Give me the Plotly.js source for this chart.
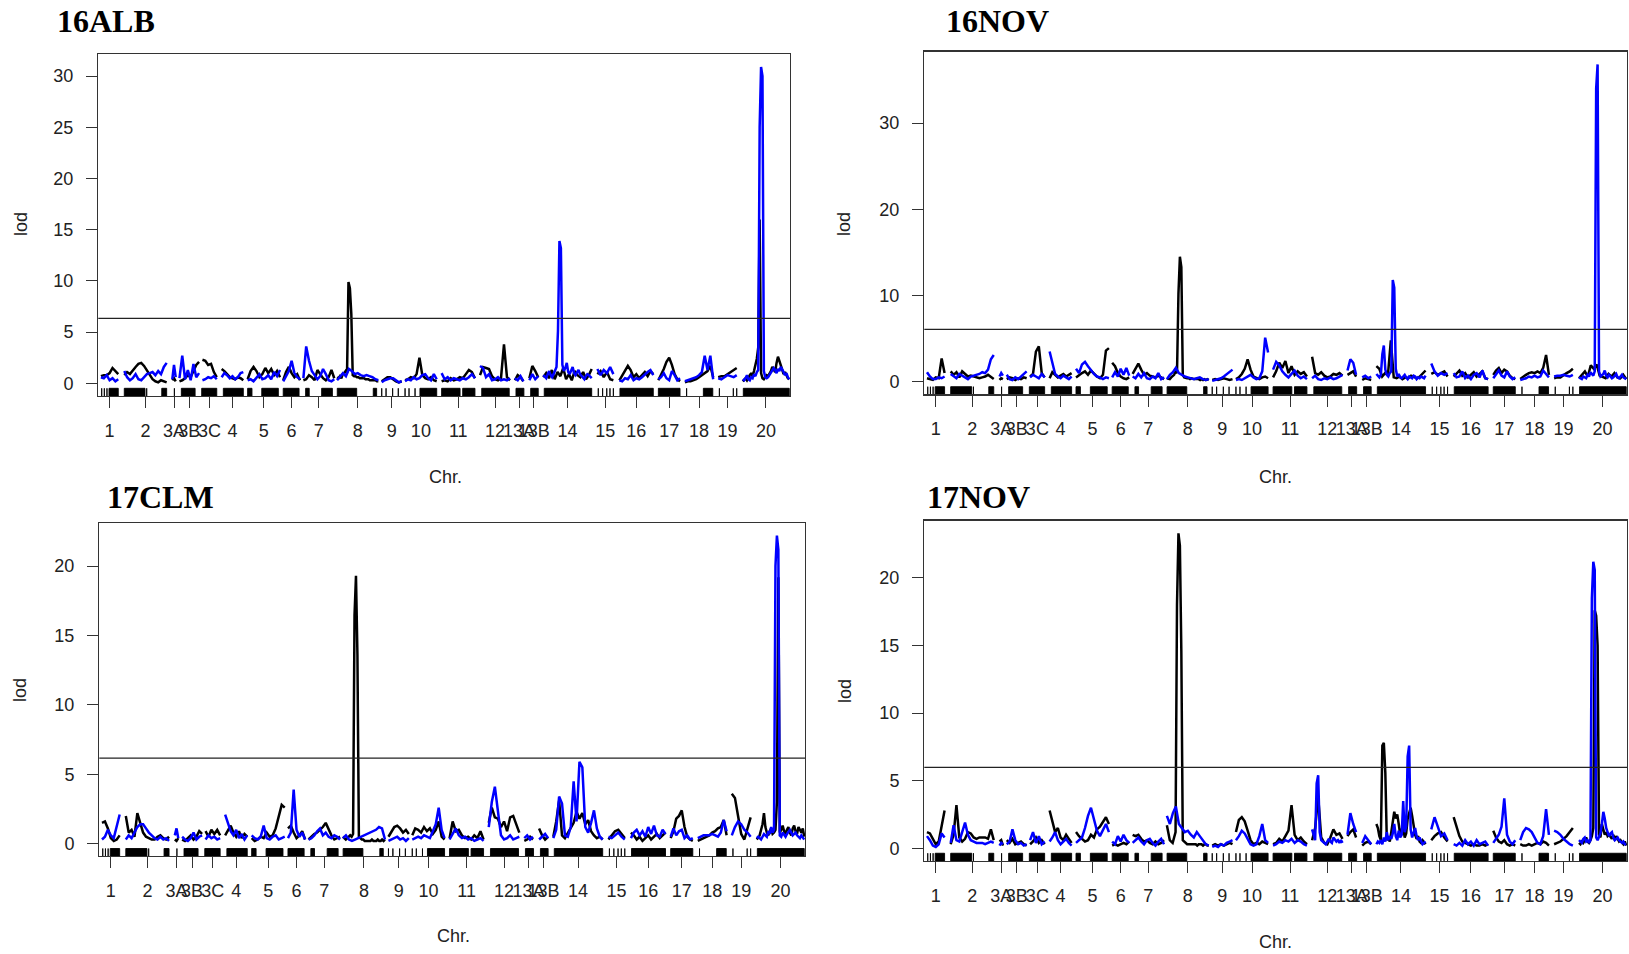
<!DOCTYPE html>
<html><head><meta charset="utf-8">
<script src="https://cdn.plot.ly/plotly-3.0.1.min.js"></script>
<style>html,body{margin:0;padding:0;background:#fff}#chart{width:1629px;height:954px}</style>
</head><body><div id="chart"></div><script>
// ---- genetic map (cM, concatenated with gaps) ----
const chrNames = ["1","2","3A","3B","3C","4","5","6","7","8","9","10","11","12","13A","13B","14","15","16","17","18","19","20"];
const chrStart = [0,124,379,417,539,641,779,968,1075,1254,1491,1615,1809,2013,2198,2275,2349,2636,2753,2960,3101,3278,3408];
const chrEnd   = [92,349,397,521,615,756,951,1057,1239,1473,1597,1783,1986,2172,2243,2322,2606,2721,2933,3075,3251,3376,3655];
// marker rug: [start, end] in cM (equal values = single marker)
const markerBlocks = [[4,4],[18,18],[32,32],[43,92],[124,234],[243,243],[323,349],[390,390],[427,500],[535,615],[650,756],
 [779,802],[854,942],[968,1052],[1087,1106],[1172,1229],[1255,1358],[1446,1464],[1491,1491],[1514,1514],[1549,1549],[1579,1579],
 [1615,1615],[1636,1636],[1668,1668],[1694,1783],[1809,1907],[1921,1986],[2022,2168],[2204,2246],[2282,2322],[2354,2606],
 [2641,2641],[2664,2664],[2686,2686],[2703,2703],[2721,2721],[2756,2933],[2960,3075],[3110,3110],[3199,3249],[3284,3284],
 [3358,3358],[3376,3376],[3411,3655]];

// ---- LOD profiles per chromosome (evenly spaced along each chromosome) ----
const alb16Black = [
 [0.7,0.8,0.8,1.0,1.5,1.2,0.9],
 [0.8,1.1,0.9,1.3,1.6,1.9,2.0,1.7,1.3,0.8,0.4,0.2,0.1,0.3,0.2,0.1],
 [0.3,0.5,0.2],
 [0.2,0.3,0.5,0.8,0.6,1.2,1.8,2.1],
 [2.3,2.2,1.8,1.9,1.1,0.6],
 [1.4,1.2,0.9,0.6,0.5,0.4,0.6,0.5,0.3],
 [0.4,1.2,1.6,1.2,0.6,0.9,1.5,1.0,1.4,0.8,1.2,0.6],
 [0.3,1.1,1.6,1.0,0.6,0.9,0.3],
 [0.3,0.4,0.8,0.6,0.3,1.3,0.9,0.5,0.3,0.6,1.3,0.5],
 [0.6,0.5,0.7,0.5,0.9,1.0,1.2,1.0,9.9,9.3,6.8,0.8,0.7,0.7,0.6,0.6,0.5,0.5,0.5,0.5,0.4,0.4,0.4,0.3,0.3,0.3,0.3,0.3,0.2,0.2],
 [0.2,0.4,0.6,0.6,0.4,0.2,0.1,0.2],
 [0.3,0.4,0.6,0.5,0.9,2.5,0.8,0.5,0.4,0.6,0.3,0.2],
 [0.2,0.3,0.2,0.5,0.3,0.4,0.6,0.5,0.9,1.3,1.1,0.5],
 [0.8,1.6,1.5,1.4,0.7,0.4,0.3,0.5,3.8,0.6,0.3],
 [0.3,0.8,0.6,0.2],
 [0.5,1.7,1.2,0.6],
 [0.6,1.0,0.5,1.3,0.4,1.1,0.7,1.5,0.4,0.9,0.3,1.2,0.8,0.6,1.1,0.4,0.8,1.4],
 [0.9,1.2,0.6,1.1,0.4,0.3],
 [0.3,0.8,1.2,1.7,1.3,0.6,0.9,0.5,0.8,1.1,0.7,1.2,0.9],
 [0.3,0.8,1.4,2.1,2.5,1.8,0.9,0.4,0.2],
 [0.1,0.2,0.2,0.3,0.4,0.6,0.8,1.0,1.2,1.7,0.6],
 [0.6,0.7,0.7,0.9,1.1,1.3,1.5],
 [0.2,0.4,0.5,0.3,0.6,0.8,1.0,0.7,1.2,1.8,2.4,3.5,16.0,1.0,0.5,0.4,0.6,0.8,0.7,0.9,1.2,1.6,1.3,1.1,2.0,2.6,2.2,1.8,1.3,0.9,1.1,0.7,0.5,0.4]
];
const alb16Blue = [
 [0.6,0.5,0.8,0.3,0.5,0.2,0.4],
 [1.2,0.6,0.3,0.5,0.9,0.4,0.3,0.6,0.9,1.0,1.1,0.8,1.2,0.9,1.6,2.0],
 [0.4,1.8,0.6],
 [0.5,2.7,0.4,1.3,0.3,1.9,0.6,1.0],
 [0.3,0.4,0.6,0.5,0.7,0.4],
 [0.6,1.0,0.8,0.5,0.7,0.4,0.6,1.0,1.1],
 [0.3,0.4,0.2,0.6,0.9,0.4,0.5,0.8,0.4,1.1,0.7,1.3],
 [0.2,0.7,1.2,2.2,1.0,0.6,0.4],
 [0.5,3.6,2.2,1.2,0.8,0.4,0.7,1.4,0.9,0.3,0.2,0.4],
 [0.3,0.6,1.0,0.7,1.4,1.2,0.9,1.0,0.8,0.7,0.8,0.7,0.6,0.4,0.3],
 [0.1,0.3,0.4,0.5,0.5,0.3,0.1,0.2],
 [0.2,0.4,0.3,0.6,0.4,0.5,0.8,0.9,0.5,0.3,0.9,0.4],
 [1.0,0.4,0.6,0.3,0.5,0.4,0.3,0.5,0.4,0.6,0.9,0.5],
 [1.7,1.5,0.6,0.9,0.3,0.4,0.6,0.3,0.4,0.3,0.5],
 [0.5,0.3,0.7,0.2],
 [0.3,0.9,0.4,0.7],
 [0.8,0.6,0.5,0.9,1.2,0.8,0.6,0.9,1.3,1.6,5.1,13.9,13.2,1.8,1.2,1.5,2.0,1.1,0.9,1.3,1.6,1.0,0.8,1.1,1.3,0.9,0.7,0.5,0.4,0.7,0.9,0.8,0.6,0.5],
 [1.4,0.8,1.3,1.0,1.6,0.9],
 [0.3,0.2,0.5,0.4,0.8,0.3,0.5,0.4,0.6,0.9,1.1,1.3,0.8],
 [0.4,0.6,1.0,0.5,0.3,1.2,0.8,0.3,0.5],
 [0.2,0.3,0.4,0.5,0.6,0.8,1.1,2.7,1.3,2.7,0.4],
 [0.5,0.4,0.6,0.8,0.7,0.6,0.8],
 [0.4,0.3,0.5,0.8,0.4,0.3,0.6,0.5,0.9,0.7,1.1,1.3,25.0,30.9,30.0,1.2,0.6,0.5,0.6,0.8,1.0,1.2,1.5,1.3,1.0,1.4,1.2,1.6,1.4,1.1,0.8,1.0,0.6,0.4]
];
const nov16Black = [
 [0.4,0.3,0.2,0.5,0.4,2.7,1.0],
 [1.2,0.8,1.1,0.5,1.2,0.9,0.6,0.7,0.6,0.5,0.4,0.5,0.6,0.8,0.5,0.3],
 [0.2,0.4,0.3],
 [0.3,0.5,0.4,0.2,0.4,0.3,0.5,0.4],
 [0.6,0.9,3.5,4.1,1.0,0.5],
 [0.4,1.1,0.8,0.5,0.7,0.9,0.6,0.8,1.0],
 [0.5,0.8,1.0,1.2,0.8,1.3,0.9,0.6,0.4,0.8,3.6,3.9],
 [2.2,1.8,1.0,0.6,0.4,0.3,0.5],
 [0.9,1.5,2.1,1.4,0.8,1.0,0.7,0.6,0.5,0.7,0.5,0.3],
 [0.4,0.3,0.3,0.5,0.6,0.8,1.2,1.0,10.2,14.5,13.3,0.8,0.5,0.4,0.4,0.4,0.3,0.4,0.3,0.3,0.3,0.3,0.3,0.2,0.3,0.2,0.3,0.2,0.3,0.2],
 [0.2,0.3,0.2,0.3,0.4,0.3,0.2,0.3],
 [0.3,0.5,0.9,1.5,2.6,1.4,0.6,0.4,0.3,0.5,0.6,0.4],
 [0.5,1.2,2.2,1.6,2.4,1.0,1.8,0.8,1.2,0.9,1.1,0.6],
 [2.9,1.0,0.8,1.1,0.7,0.5,0.6,0.9,0.8,1.0,0.7],
 [0.8,1.0,1.2,0.6],
 [0.2,0.4,0.3,0.2],
 [1.8,1.5,0.6,1.0,0.8,4.8,0.5,0.4,0.6,0.3,0.5,0.4,0.7,0.5,0.4,0.6,1.0,1.3],
 [0.9,1.1,0.8,1.0,1.2,0.6],
 [0.6,0.9,1.3,0.7,1.0,0.5,0.8,1.1,0.6,0.9,1.2,0.4,0.3],
 [0.8,1.3,1.6,1.0,1.4,1.2,0.7,0.4,0.3],
 [0.3,0.5,0.8,1.0,1.1,1.0,1.2,1.0,1.6,3.1,0.8],
 [0.4,0.5,0.5,0.8,1.0,1.2,1.5],
 [0.4,0.8,1.2,0.6,1.9,1.5,2.0,0.7,0.5,0.4,0.9,0.6,1.0,0.5,0.4,0.8,0.3]
];
const nov16Blue = [
 [1.1,0.6,0.3,0.3,0.5,0.4,0.6],
 [0.9,0.6,0.4,0.9,0.7,0.5,0.3,0.6,0.7,0.8,0.9,1.1,1.0,1.4,2.6,3.1],
 [0.6,1.0,0.7],
 [0.8,0.3,0.2,0.5,0.3,0.6,0.9,1.2],
 [0.5,0.8,0.6,0.4,0.9,0.5],
 [3.5,2.1,0.9,0.6,0.4,0.7,0.5,0.3,0.6],
 [1.5,1.0,2.0,2.3,1.8,1.3,0.9,0.6,0.5,0.3,0.5,0.4],
 [0.5,1.1,0.6,1.5,0.8,1.6,0.7],
 [0.6,0.4,0.9,0.5,1.0,0.4,0.3,0.6,0.4,1.0,0.3,0.5],
 [0.3,0.8,1.1,1.6,1.0,0.8,0.6,0.5,0.4,0.3,0.4,0.5,0.3,0.2,0.3],
 [0.1,0.2,0.3,0.4,0.6,0.9,1.2,1.4],
 [0.2,0.3,0.2,0.4,0.6,0.8,0.5,0.3,0.4,1.2,5.1,3.4],
 [1.4,2.3,1.9,1.2,0.8,0.5,0.9,1.3,0.7,0.4,0.6,0.3],
 [0.4,0.7,0.3,0.2,0.4,0.3,0.5,0.3,0.4,0.6,0.8],
 [1.3,2.6,2.2,0.8],
 [0.5,0.7,0.4,0.6],
 [0.9,0.7,0.5,0.8,3.2,4.2,1.4,0.8,0.6,1.0,1.2,11.8,10.9,1.5,0.6,0.9,0.5,0.4,0.6,0.8,0.5,0.3,0.6,0.5,0.4,0.7,0.6,0.3,0.5,0.4,0.6,0.5,0.4,0.7],
 [2.1,1.2,0.7,1.0,0.8,1.0],
 [1.0,0.5,0.6,1.2,0.4,0.7,0.3,0.8,1.0,0.5,1.3,0.4,0.3],
 [0.4,0.9,1.3,0.7,0.5,1.2,0.6,0.3,0.5],
 [0.2,0.3,0.4,0.6,0.5,0.7,0.5,0.6,1.3,0.9,0.5],
 [0.6,0.7,0.7,0.8,0.7,0.6,0.8],
 [0.5,0.4,0.3,0.6,0.5,0.4,0.8,0.6,1.1,0.9,0.7,1.2,34.0,36.8,1.2,0.6,0.8,0.9,1.3,0.7,0.5,0.8,0.6,0.4,0.5,0.7,0.9,0.5,0.4,0.6,0.8,0.5,0.4,0.3]
];
const clm17Black = [
 [1.5,1.6,1.1,0.4,0.2,0.3,0.6],
 [2.0,0.8,1.0,0.5,2.2,1.4,0.8,0.5,0.4,0.3,0.3,0.5,0.6,0.4,0.3,0.5],
 [0.3,0.2,0.4],
 [0.3,0.2,0.4,0.6,0.3,0.5,0.9,0.7],
 [0.9,0.5,1.0,0.7,1.0,0.6],
 [0.6,1.0,1.3,0.8,0.5,0.9,0.4,0.7,0.5],
 [0.4,0.2,0.3,0.5,0.4,0.8,0.5,0.6,1.1,1.9,2.8,2.6],
 [1.1,1.3,0.8,0.4,0.6,0.9,0.3],
 [0.3,0.5,0.7,0.8,1.0,1.2,1.5,1.0,0.6,0.3,0.4,0.5],
 [0.5,0.4,0.3,0.4,0.5,0.6,0.5,0.7,16.5,19.3,13.6,0.5,0.4,0.3,0.3,0.2,0.2,0.2,0.2,0.2,0.3,0.2,0.2,0.2,0.3,0.2,0.2,0.3,0.2,0.3],
 [0.5,0.9,1.2,1.3,1.1,0.8,1.0,0.7],
 [0.6,1.1,1.0,0.8,1.2,0.9,1.1,0.7,1.0,1.6,0.5,0.3],
 [0.4,1.6,0.9,1.0,0.6,0.4,0.5,0.3,0.6,0.4,0.9,0.3],
 [1.5,2.6,1.9,1.8,1.2,1.6,0.9,1.9,2.0,1.4,0.8],
 [0.2,0.3,0.5,0.3],
 [1.1,0.6,0.3,0.5],
 [0.5,1.6,3.1,0.6,0.4,0.8,1.1,1.5,2.3,1.8,2.2,1.4,1.7,0.9,0.6,0.4,0.5,0.3],
 [0.3,0.6,0.9,1.0,0.7,0.4],
 [0.8,0.6,0.3,0.5,0.2,0.4,0.6,0.3,0.5,0.7,0.4,0.6,0.8],
 [0.4,0.9,1.8,2.0,2.4,1.2,0.5,0.3,0.2],
 [0.2,0.3,0.4,0.5,0.6,0.8,0.9,1.1,1.2,1.7,0.6],
 [3.6,3.3,2.0,0.7,0.3,1.2,1.9],
 [0.3,0.5,0.6,1.0,1.4,2.2,1.2,0.8,0.6,0.9,1.1,0.7,0.8,1.0,3.0,19.2,0.8,1.0,1.3,0.9,0.7,1.0,1.2,0.8,0.6,1.1,1.3,0.9,0.7,1.2,1.0,0.8,1.1,0.5]
];
const clm17Blue = [
 [0.3,0.5,1.0,0.6,0.4,1.2,2.1],
 [0.3,0.6,0.4,0.8,1.2,1.4,1.4,1.1,0.8,0.6,0.4,0.3,0.5,0.3,0.4,0.2],
 [0.6,1.1,0.4],
 [0.5,0.3,0.2,0.4,0.8,0.3,0.5,0.6],
 [0.3,0.6,0.4,0.5,0.3,0.4],
 [2.1,1.5,0.9,0.6,1.0,0.4,0.7,0.3,0.6],
 [0.6,0.4,0.3,0.5,1.3,0.4,0.3,0.5,0.6,0.3,0.4,0.5],
 [0.4,0.8,3.9,1.0,0.5,0.8,0.3],
 [0.3,0.4,0.6,0.9,1.1,0.6,0.8,0.5,0.4,0.6,0.5,0.3],
 [0.4,0.6,0.3,0.2,0.3,0.4,0.5,0.6,0.7,0.8,0.9,1.0,1.2,1.1,0.3],
 [0.2,0.3,0.4,0.5,0.3,0.4,0.2,0.4],
 [0.3,0.4,0.5,0.4,0.6,0.5,0.4,0.9,1.4,2.6,1.0,0.4],
 [0.3,0.7,1.1,0.6,0.4,0.5,0.3,0.4,0.2,0.3,0.4,0.2],
 [1.2,3.0,4.1,2.5,0.6,0.3,0.4,0.6,0.3,0.4,0.5],
 [0.4,0.6,0.3,0.5],
 [0.3,0.5,0.7,0.4],
 [0.4,1.0,3.4,2.9,0.6,0.5,1.2,4.5,1.6,5.9,5.5,1.2,0.8,1.5,2.4,1.1,0.5,0.3],
 [0.5,0.4,0.6,0.8,0.5,0.3],
 [0.4,0.8,1.0,0.6,0.9,0.5,1.2,0.7,1.3,0.6,0.5,1.0,0.7],
 [0.5,1.1,0.6,0.9,1.0,0.4,0.6,0.3,0.4],
 [0.4,0.5,0.6,0.6,0.6,0.7,0.6,0.5,0.8,1.7,0.9],
 [0.6,1.2,1.6,1.4,1.0,0.8,0.5],
 [0.4,0.5,0.4,0.3,0.5,0.7,0.6,0.5,0.9,0.7,1.2,0.8,1.0,20.0,22.2,21.2,0.6,0.5,0.8,0.6,0.5,0.7,0.9,1.0,0.8,0.6,0.7,0.8,0.6,0.5,0.4,0.6,0.4,0.3]
];
const nov17Black = [
 [1.2,1.1,0.7,0.3,0.5,1.6,2.8],
 [0.3,1.0,3.2,0.8,0.5,0.7,1.2,1.1,0.8,0.7,0.8,0.8,0.8,0.7,1.4,0.6],
 [0.5,0.6,0.2],
 [0.6,0.4,0.7,0.3,0.4,0.5,0.3,0.2],
 [0.3,0.5,0.8,0.4,0.6,0.3],
 [2.8,1.9,1.2,1.5,0.8,0.6,1.0,0.7,0.4],
 [1.2,0.9,0.7,0.5,0.6,1.0,0.8,1.4,1.6,2.0,2.3,1.8],
 [0.2,0.3,0.2,0.3,0.4,0.3,0.5],
 [1.0,0.9,1.0,0.7,0.5,0.6,0.4,0.3,0.5,0.3,0.4,0.6],
 [1.7,1.2,0.6,0.5,0.4,0.8,1.2,18.0,23.3,22.4,14.5,0.6,0.5,0.4,0.3,0.3,0.3,0.3,0.3,0.3,0.3,0.2,0.3,0.3,0.3,0.2,0.3,0.3,0.2,0.2],
 [0.2,0.3,0.2,0.3,0.2,0.3,0.4,0.3],
 [1.2,2.1,2.3,2.0,1.3,0.6,0.3,0.4,0.3,0.5,0.4,0.3],
 [0.3,0.4,0.7,0.5,0.9,1.3,3.2,1.0,0.6,0.8,0.5,0.3],
 [0.6,1.5,3.8,0.8,0.4,0.3,0.8,1.4,1.0,1.1,0.7],
 [0.9,1.2,1.4,0.8],
 [0.2,0.4,0.5,0.3],
 [1.8,1.5,0.9,0.6,7.6,7.8,5.6,0.6,0.8,0.5,1.2,1.9,2.7,2.2,2.5,1.8,1.0,1.4,1.6,0.8,1.1,2.2,2.6,3.0,2.4,1.5,1.0,0.7,0.9,0.5,0.4,0.6,0.4,0.3],
 [0.6,0.9,1.1,1.2,0.8,0.5],
 [2.3,1.6,0.9,0.5,0.4,0.3,0.2,0.3,0.2,0.2,0.3,0.2,0.3],
 [1.3,0.8,0.5,0.4,0.6,0.3,0.2,0.3,0.2],
 [0.3,0.2,0.2,0.3,0.2,0.3,0.4,0.3,0.5,0.4,0.2],
 [0.3,0.4,0.5,0.7,0.9,1.2,1.5],
 [0.4,0.3,0.5,0.4,0.6,0.8,0.5,0.4,0.6,0.9,1.5,17.6,17.2,15.0,1.0,0.8,1.8,1.4,1.0,1.2,0.9,1.0,0.8,0.7,1.0,0.6,0.9,0.7,0.5,0.6,0.4,0.3,0.5,0.2]
];
const nov17Blue = [
 [0.9,0.6,0.2,0.1,0.3,1.1,0.8],
 [0.4,1.7,0.6,0.5,1.2,1.9,1.0,0.6,0.5,0.4,0.4,0.4,0.3,0.4,0.5,0.4],
 [0.2,0.4,0.3],
 [0.3,0.5,1.4,0.6,0.3,0.4,0.2,0.3],
 [0.6,1.2,0.4,0.9,0.3,0.5],
 [0.5,0.8,1.2,0.6,0.3,0.5,0.7,0.4,0.2],
 [0.4,0.6,0.8,1.5,2.4,3.0,2.2,1.3,0.9,1.3,1.8,1.2],
 [0.5,0.3,0.9,0.5,1.0,0.6,0.4],
 [0.4,0.6,0.8,0.5,0.3,0.6,0.7,0.4,0.2,0.5,0.7,0.3],
 [2.4,1.8,2.6,3.1,1.8,1.5,1.2,1.3,1.0,0.8,1.2,0.9,0.6,0.3,0.2],
 [0.1,0.2,0.1,0.3,0.2,0.4,0.5,0.6],
 [0.6,0.9,1.3,1.1,0.7,0.3,0.2,0.3,0.9,1.8,0.6,0.4],
 [0.2,0.3,0.5,0.4,0.6,0.5,0.7,0.4,0.6,0.5,0.3,0.2],
 [1.4,1.0,0.6,4.8,5.4,1.2,0.6,0.5,0.4,0.3,0.5,0.7,0.5,0.4,0.8,0.6,0.5,0.6,0.4,0.6,0.4],
 [1.0,2.6,1.8,1.2],
 [0.4,0.9,0.6,0.3],
 [0.3,0.5,0.4,0.6,0.3,0.8,0.5,1.2,0.6,0.9,0.7,1.1,1.8,0.9,0.6,1.3,0.8,1.0,3.5,1.2,1.6,6.8,7.6,1.4,0.8,1.1,1.5,0.9,0.6,0.8,0.5,0.3,0.4,0.5],
 [1.4,2.3,1.6,0.9,1.1,0.6],
 [0.3,0.2,0.4,0.2,0.6,0.3,0.5,0.2,0.6,0.3,0.4,0.5,0.2],
 [0.4,0.7,1.0,1.6,3.7,1.0,0.5,0.3,0.6],
 [0.6,1.2,1.5,1.4,1.2,0.8,0.4,0.3,0.9,2.9,1.0],
 [1.3,1.2,1.0,0.7,0.5,0.3,0.2],
 [0.6,0.5,0.4,0.7,0.8,0.5,0.6,0.4,0.6,18.5,21.2,20.6,0.8,0.6,0.9,1.1,1.8,2.7,2.2,1.5,1.2,0.9,1.1,1.2,0.8,0.6,0.7,0.8,0.6,0.5,0.4,0.5,0.3,0.3]
];
const panelTitles = ["16ALB","16NOV","17CLM","17NOV"];
const thresholds = [6.35, 6.06, 6.16, 5.99];
const yTicks = [[0,5,10,15,20,25,30],[0,10,20,30],[0,5,10,15,20],[0,5,10,15,20]];

// ---- drawing ----
const W = 1629, H = 954;
const FONT = "Liberation Sans, Arial, sans-serif";
const px = v => v / W, py = v => 1 - v / H;
const boxes = [ // pixel boxes [left, right, top, bottom]
  [98.3, 790, 54.3, 396],
  [924.3, 1627, 51.7, 394.4],
  [99.3, 805, 523.3, 856],
  [924.3, 1627, 520.7, 860.9]
];
const series = [[alb16Black, alb16Blue],[nov16Black, nov16Blue],[clm17Black, clm17Blue],[nov17Black, nov17Blue]];
const chrMid = chrStart.map((s,i)=>(s+chrEnd[i])/2);
const xRange = [chrStart[0]-14, chrEnd[chrEnd.length-1]+4];

function lineXY(lods){
  const x=[], y=[];
  lods.forEach((arr,c)=>{
    const s=chrStart[c], e=chrEnd[c], n=arr.length;
    arr.forEach((v,i)=>{ x.push(s+(e-s)*i/(n-1)); y.push(v); });
    x.push(null); y.push(null);
  });
  return {x,y};
}
function rugXY(y0, y1){
  const x=[], y=[];
  markerBlocks.forEach(([s,e])=>{ x.push(s,s,e,e,s,null); y.push(y0,y1,y1,y0,y0,null); });
  return {x,y};
}

const traces = [], layout = {
  width: W, height: H, margin:{l:0,r:0,t:0,b:0}, showlegend:false,
  paper_bgcolor:'#fff', plot_bgcolor:'#fff', annotations:[], shapes:[]
};
const titlePos = [[55,21],[944,21],[105,497],[925,497]];
const lodPos = [[21,224],[844,224],[20,690],[845,691]];
const chrPos = [[445,477],[1275,477],[453,936],[1275,942]];

series.forEach((pair,k)=>{
  const xa = k===0 ? 'x' : 'x'+(k+1), ya = k===0 ? 'y' : 'y'+(k+1);
  const M = Math.max(...pair.flat(2));
  const yr = [-0.04*M, 1.04*M];
  const rugTop = yr[0] + 0.0225*(yr[1]-yr[0]);
  const r = rugXY(yr[0], rugTop);
  traces.push({x:r.x, y:r.y, xaxis:xa, yaxis:ya, mode:'lines', fill:'toself', fillcolor:'#000',
    line:{color:'#000', width:0.9}, hoverinfo:'skip'});
  const b = lineXY(pair[0]);
  traces.push({x:b.x, y:b.y, xaxis:xa, yaxis:ya, mode:'lines', line:{color:'#000', width:2.5}, connectgaps:false, name:'black'});
  const u = lineXY(pair[1]);
  traces.push({x:u.x, y:u.y, xaxis:xa, yaxis:ya, mode:'lines', line:{color:'#0000FF', width:2.5}, connectgaps:false, name:'blue'});

  const bx = boxes[k];
  const axName = k===0 ? 'xaxis' : 'xaxis'+(k+1), ayName = k===0 ? 'yaxis' : 'yaxis'+(k+1);
  layout[axName] = {
    domain:[px(bx[0]), px(bx[1])], anchor:ya, range:xRange, tickmode:'array', tickvals:chrMid, ticktext:chrNames,
    tickangle:0, ticks:'outside', ticklen:11, tickwidth:1, tickcolor:'#333', showline:true, mirror:true,
    linecolor:'#333', linewidth:1.3, showgrid:false, zeroline:false, ticklabelstandoff:7,
    tickfont:{family:FONT, size:18, color:'#222'}
  };
  layout[ayName] = {
    domain:[py(bx[3]), py(bx[2])], anchor:xa, range:yr, tickmode:'array', tickvals:yTicks[k],
    ticks:'outside', ticklen:11, tickwidth:1, tickcolor:'#333', showline:true, mirror:true,
    linecolor:'#333', linewidth:1.3, showgrid:false, zeroline:false, ticklabelstandoff:9,
    tickfont:{family:FONT, size:18, color:'#222'}
  };
  layout.shapes.push({type:'line', xref:xa+' domain', yref:ya, x0:0, x1:1, y0:thresholds[k], y1:thresholds[k],
    line:{color:'#222', width:1.2}});
  layout.annotations.push({text:panelTitles[k], xref:'paper', yref:'paper', x:px(titlePos[k][0]), y:py(titlePos[k][1]),
    xanchor:'left', yanchor:'middle', showarrow:false, font:{family:"Liberation Serif, Times New Roman, serif", size:32, color:'#000', weight:'bold'}});
  layout.annotations.push({text:'lod', xref:'paper', yref:'paper', x:px(lodPos[k][0]), y:py(lodPos[k][1]),
    xanchor:'center', yanchor:'middle', textangle:-90, showarrow:false, font:{family:FONT, size:18, color:'#222'}});
  layout.annotations.push({text:'Chr.', xref:'paper', yref:'paper', x:px(chrPos[k][0]), y:py(chrPos[k][1]),
    xanchor:'center', yanchor:'middle', showarrow:false, font:{family:FONT, size:18, color:'#222'}});
});

Plotly.newPlot('chart', traces, layout, {staticPlot:true, displayModeBar:false});
</script></body></html>
